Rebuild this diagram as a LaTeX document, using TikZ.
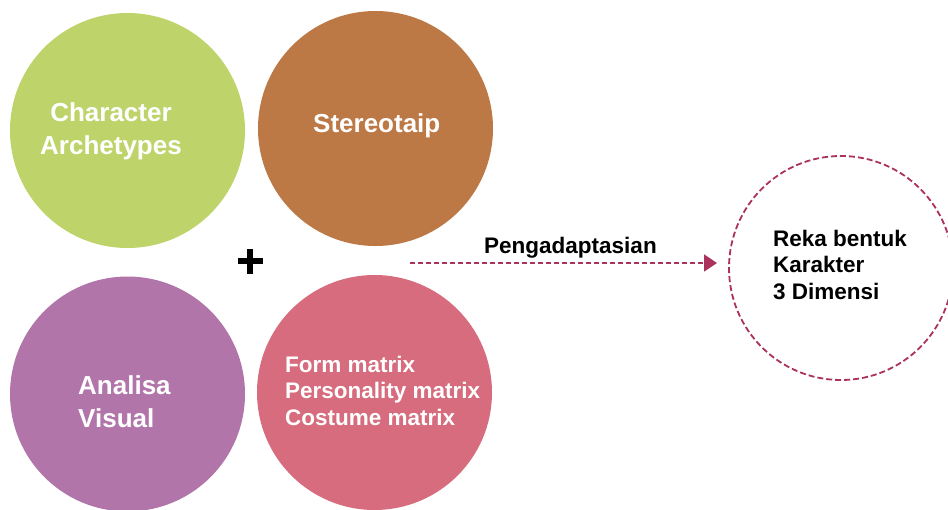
\documentclass[tikz,border=0pt]{standalone}
\usepackage{fontspec}
\setmainfont{Liberation Sans}
\usetikzlibrary{arrows.meta}
\definecolor{cgreen}{RGB}{190,212,107}
\definecolor{cbrown}{RGB}{188,120,69}
\definecolor{cpurple}{RGB}{177,117,169}
\definecolor{cpink}{RGB}{214,108,125}
\definecolor{cmaroon}{RGB}{170,50,92}
\tikzset{
  bigcircle/.style={circle, minimum size=235pt, inner sep=0pt, draw=none},
  bigtext/.style={text=white, font=\bfseries\fontsize{26}{33}\selectfont, align=left, inner sep=0pt, anchor=base west},
  smalltext/.style={font=\bfseries\fontsize{22.5}{26.5}\selectfont, align=left, inner sep=0pt, anchor=base west},
  dashline/.style={draw=cmaroon, line width=1.8pt, dash pattern=on 5pt off 3pt},
}
\begin{document}
\begin{tikzpicture}[x=1pt,y=-1pt]
\useasboundingbox (0,0) rectangle (948,509);
\node[bigcircle, fill=cgreen] (c1) at (127.5,130.5) {};
\node[bigcircle, fill=cbrown] (c2) at (375.5,128.5) {};
\node[bigcircle, fill=cpurple] (c3) at (127.5,394) {};
\node[bigcircle, fill=cpink] (c4) at (374.5,392.5) {};
\node[circle, minimum size=224pt, inner sep=0pt, draw=cmaroon, line width=1.8pt, dash pattern=on 6pt off 3pt] (c5) at (841,268) {};

\node[bigtext, align=center, anchor=base] (t1) at (111,154) {Character\\Archetypes};
\node[bigtext] (t2) at (313,132) {Stereotaip};
\node[bigtext] (t3) at (78,427) {Analisa\\Visual};
\node[smalltext, text=white] (t4) at (285,425) {Form matrix\\Personality matrix\\Costume matrix};
\node[smalltext] (t5) at (773,299) {Reka bentuk\\Karakter\\3 Dimensi};
\node[smalltext, font=\bfseries\fontsize{22.5}{26}\selectfont] (t6) at (484,253) {Pengadaptasian};

\coordinate (pc) at (250,261);
\draw[line width=6.5pt] ([xshift=-12.5pt]pc) -- ([xshift=12.5pt]pc);
\draw[line width=6.5pt] ([yshift=-12.5pt]pc) -- ([yshift=12.5pt]pc);

\coordinate (a0) at (410,263);
\coordinate (a1) at (717,263);
\draw[dashline, -{Triangle[length=13pt,width=17pt]}] (a0) -- (a1);
\end{tikzpicture}
\end{document}
